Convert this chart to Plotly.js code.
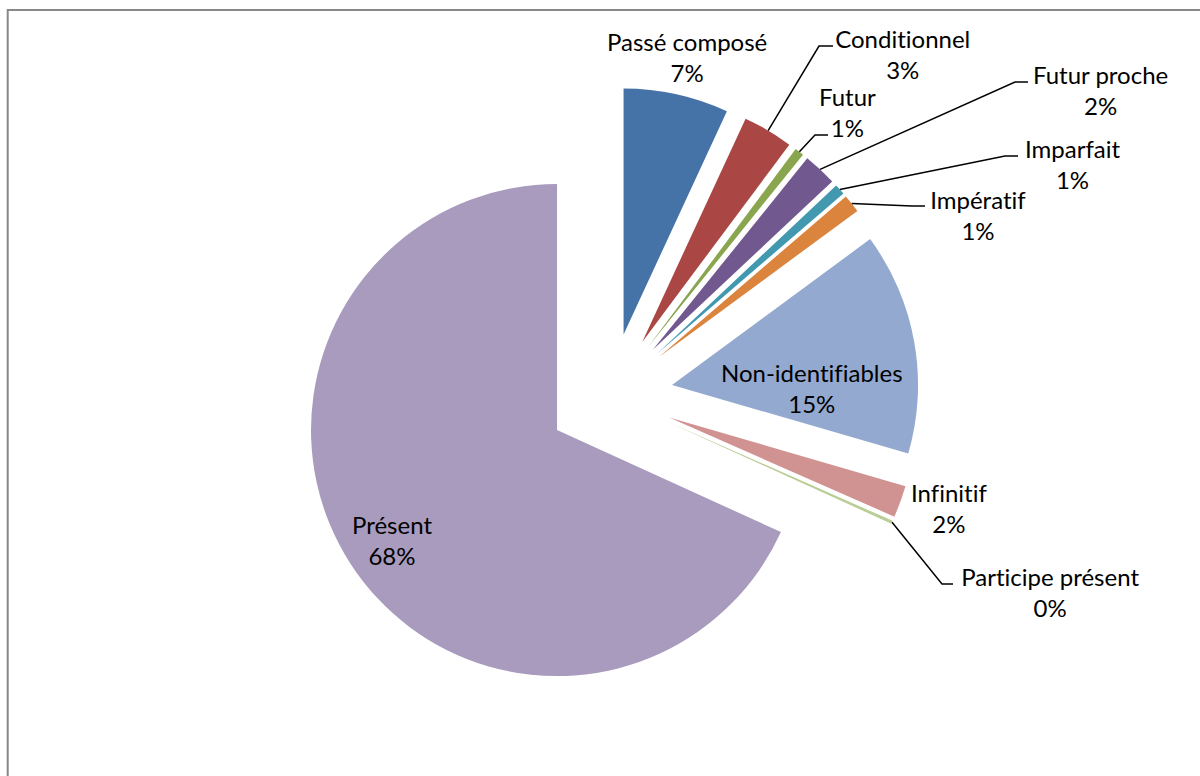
<!DOCTYPE html>
<html>
<head>
<meta charset="utf-8">
<script src="https://cdn.plot.ly/plotly-3.0.1.min.js"></script>
<style>
  html, body { margin: 0; padding: 0; background: #fff; }
  #chart { width: 1200px; height: 776px; }
  #chart text { font-variant-ligatures: none; font-feature-settings: "liga" 0, "clig" 0; }
</style>
</head>
<body>
<div id="chart"></div>
<script>
const labels = ['Passé composé', 'Conditionnel', 'Futur', 'Futur proche', 'Imparfait',
  'Impératif', 'Non-identifiables', 'Infinitif', 'Participe présent', 'Présent'];
const values = [6.9, 3.3, 0.6, 2.2, 0.7, 1.2, 14.6, 2.1, 0.2, 68.2];
const colors = ['#4572A7', '#AA4643', '#89A54E', '#71588F', '#4198AF',
  '#DB843D', '#93A9CF', '#D19392', '#B9CD96', '#A99BBD'];

// page and plot box (pixels)
const W = 1200, H = 776;
const M = { l: 20, r: 0, t: 87, b: 71 };
const PULL = 0.256;
const plotW = W - M.l - M.r, plotH = H - M.t - M.b;
const cx = M.l + plotW / 2, cy = M.t + plotH / 2;
const R = Math.min(plotW, plotH) / 2 / (1 + PULL);

const px = x => (x - M.l) / plotW;
const py = y => 1 - (y - M.t) / plotH;

// where each label block sits, and the elbow of its leader line
const labelPos = {
  'Passé composé':     { x: 687,  y: 57 },
  'Conditionnel':      { x: 903,  y: 54,  elbow: [833, 819, 46] },
  'Futur':             { x: 847,  y: 112, elbow: [828, 815, 135] },
  'Futur proche':      { x: 1100, y: 90,  elbow: [1028, 1015, 82] },
  'Imparfait':         { x: 1072, y: 164, elbow: [1018, 1005, 156] },
  'Impératif':         { x: 978,  y: 215, elbow: [925, 912, 206] },
  'Non-identifiables': { x: 812,  y: 388 },
  'Infinitif':         { x: 949,  y: 508 },
  'Participe présent': { x: 1050, y: 592, elbow: [953, 942, 584] },
  'Présent':           { x: 392,  y: 540 }
};

const total = values.reduce((a, b) => a + b, 0);
const annotations = [];
const shapes = [];
let cum = 0;
labels.forEach((lab, i) => {
  const mid = (cum + values[i] / 2) / total * 2 * Math.PI;
  cum += values[i];
  const pos = labelPos[lab];
  annotations.push({
    xref: 'paper', yref: 'paper',
    x: px(pos.x), y: py(pos.y),
    xanchor: 'center', yanchor: 'middle',
    text: lab + '<br>' + Math.round(100 * values[i] / total) + '%',
    showarrow: false,
    font: { family: 'Lato, sans-serif', size: 24, color: '#000' }
  });
  if (pos.elbow) {
    // leader ends on the outer arc of the pulled slice, at its bisector
    const ax = cx + (1 + PULL) * R * Math.sin(mid);
    const ay = cy - (1 + PULL) * R * Math.cos(mid);
    const [x0, x1, y0] = pos.elbow;
    shapes.push({
      type: 'path', xref: 'paper', yref: 'paper',
      path: `M ${px(x0)} ${py(y0)} L ${px(x1)} ${py(y0)} L ${px(ax)} ${py(ay)}`,
      line: { color: '#000', width: 1.5 }
    });
  }
});

// chart frame (grey, open at the right and bottom)
shapes.push({
  type: 'path', xref: 'paper', yref: 'paper',
  path: `M ${px(7.7)} ${py(H + 5)} L ${px(7.7)} ${py(10)} L ${px(W + 5)} ${py(10)}`,
  line: { color: '#888888', width: 2 }
});

const trace = {
  type: 'pie',
  labels: labels,
  values: values,
  sort: false,
  direction: 'clockwise',
  rotation: 0,
  pull: labels.map(() => PULL),
  marker: { colors: colors, line: { width: 0 } },
  textinfo: 'none',
  hoverinfo: 'none',
  showlegend: false
};

const layout = {
  width: W,
  height: H,
  margin: M,
  paper_bgcolor: '#fff',
  showlegend: false,
  annotations: annotations,
  shapes: shapes
};

Plotly.newPlot('chart', [trace], layout, { displayModeBar: false, staticPlot: true });
</script>
</body>
</html>
